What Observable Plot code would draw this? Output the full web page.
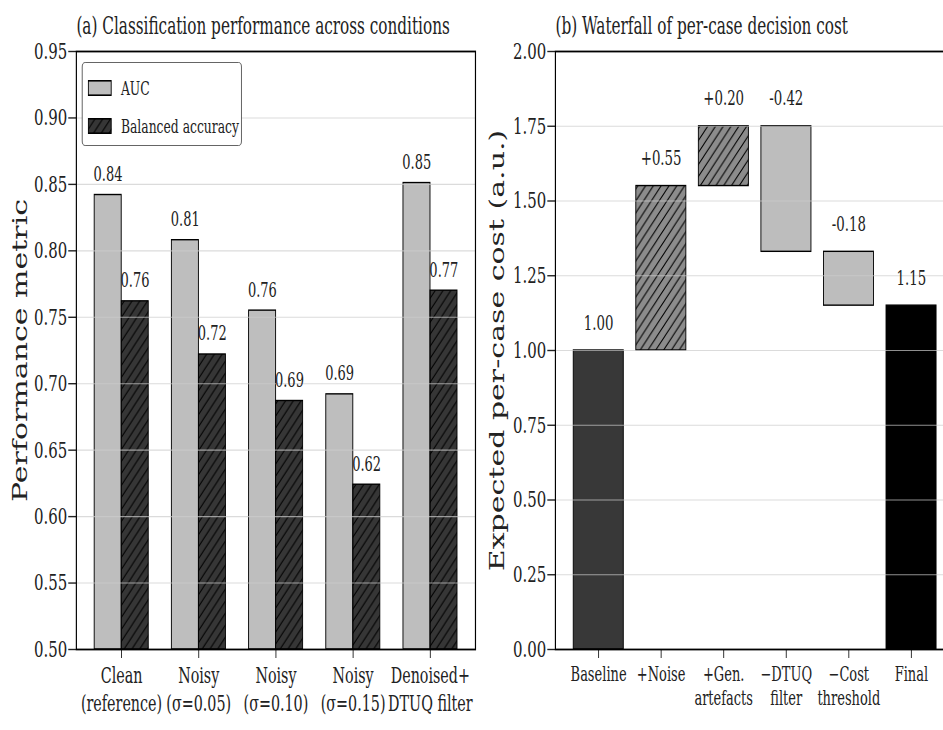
<!DOCTYPE html>
<html><head><meta charset="utf-8">
<script src="https://cdn.jsdelivr.net/npm/d3@7"></script>
<script src="https://cdn.jsdelivr.net/npm/@observablehq/plot@0.6"></script>
<style>
html,body{margin:0;padding:0;background:#fff;overflow:hidden;width:943px;height:730px;}
#wrap{position:absolute;left:0;top:0;width:1480px;height:730px;transform:scaleX(0.65);transform-origin:0 0;display:flex;font-family:"DejaVu Serif",serif;}
#wrap svg{display:block;max-width:none;}
#legend{position:absolute;left:126px;top:62px;width:244px;height:82px;border:1.6px solid #444;border-radius:5px;background:#fff;font-size:19px;color:#222;}
.lg{position:absolute;left:8px;display:flex;align-items:center;}
.lg span{margin-left:14px;}
</style></head><body>
<svg width="0" height="0" style="position:absolute">
  <defs>
    <pattern id="hatch" patternUnits="userSpaceOnUse" width="12" height="12">
      <path d="M0,12L12,0M-3,3L3,-3M9,15L15,9" stroke="#000" stroke-width="1.3" fill="none"/>
    </pattern>
  </defs>
</svg>
<div id="wrap">
  <div id="legend">
    <div class="lg" style="top:14px"><svg width="37" height="16"><rect x="0.8" y="0.8" width="35.4" height="14.4" fill="#bebebe" stroke="#000" stroke-width="1.6"/></svg><span>AUC</span></div>
    <div class="lg" style="top:52px"><svg width="37" height="16"><rect x="0.8" y="0.8" width="35.4" height="14.4" fill="#363636"/><rect x="0.8" y="0.8" width="35.4" height="14.4" fill="url(#hatch)" stroke="#000" stroke-width="1.6"/></svg><span>Balanced accuracy</span></div>
  </div>
</div>
<script>
// ---------- Panel (a) data ----------
const conditions = ["Clean\n(reference)", "Noisy\n(σ=0.05)", "Noisy\n(σ=0.10)", "Noisy\n(σ=0.15)", "Denoised+\nDTUQ filter"];
const aucValues = [0.842, 0.808, 0.755, 0.692, 0.851];
const balAccValues = [0.762, 0.722, 0.687, 0.624, 0.770];
const perfTicks = [0.50, 0.55, 0.60, 0.65, 0.70, 0.75, 0.80, 0.85, 0.90, 0.95];

// ---------- Panel (b) data ----------
const steps = ["Baseline", "+Noise", "+Gen.\nartefacts", "\u2212DTUQ\nfilter", "\u2212Cost\nthreshold", "Final"];
const stepKinds = ["total", "increase", "increase", "decrease", "decrease", "total"];
const stepValues = [1.00, 0.55, 0.20, -0.42, -0.18, 1.15];
const costTicks = [0.00, 0.25, 0.50, 0.75, 1.00, 1.25, 1.50, 1.75, 2.00];

// ---------- styles ----------
const fontStyle = {fontFamily: "DejaVu Serif", fontSize: "23px", background: "transparent", maxWidth: "none", overflow: "visible", color: "#222"};
const barW = 0.35, wfW = 0.4;
const stepFill = ["#383838", "#8c8c8c", "#8c8c8c", "#bdbdbd", "#bdbdbd", "#000000"];
const stepHatch = [false, true, true, false, false, false];

// rows for panel (a)
const perfRows = conditions.flatMap((c, i) => [
  {i, series: "AUC", x1: i - barW, x2: i, base: perfTicks[0], v: aucValues[i]},
  {i, series: "Balanced accuracy", x1: i, x2: i + barW, base: perfTicks[0], v: balAccValues[i]}
]);

// rows for panel (b)
let running = 0;
const wfRows = steps.map((s, i) => {
  const v = stepValues[i];
  if (stepKinds[i] === "total") {
    running = v;
    return {i, lo: 0, hi: v, label: v.toFixed(2)};
  }
  const start = running;
  running = Math.round((running + v) * 1000) / 1000;
  return {i, lo: Math.min(start, running), hi: Math.max(start, running), label: (v > 0 ? "+" : "") + v.toFixed(2)};
});

const H = 730, mTop = 51, mBottom = 81;

const plotA = Plot.plot({
  width: 735, height: H,
  marginLeft: 117, marginRight: 4, marginTop: mTop, marginBottom: mBottom,
  style: fontStyle,
  x: {domain: [-0.585, 4.585]},
  y: {domain: [perfTicks[0], perfTicks[perfTicks.length - 1]]},
  marks: [
    Plot.rect(perfRows, {x1: "x1", x2: "x2", y1: "base", y2: "v",
      fill: d => d.series === "AUC" ? "#bebebe" : "#363636"}),
    Plot.rect(perfRows.filter(d => d.series !== "AUC"), {x1: "x1", x2: "x2", y1: "base", y2: "v", fill: "url(#hatch)"}),
    Plot.rect(perfRows, {x1: "x1", x2: "x2", y1: "base", y2: "v", fill: "none", stroke: "#000", strokeWidth: 1.4}),
    Plot.gridY(perfTicks, {stroke: "#cccccc", strokeOpacity: 0.7, strokeWidth: 1.1}),
    Plot.text(perfRows, {x: d => (d.x1 + d.x2) / 2, y: "v", text: d => d.v.toFixed(2), lineAnchor: "bottom", dy: -14, fontSize: 20, fill: "#222"}),
    Plot.axisY(perfTicks, {tickFormat: d3.format(".2f"), tickSize: 12, tickPadding: 2, label: null, strokeWidth: 1.4, fill: "#222"}),
    Plot.axisX(d3.range(conditions.length), {tickFormat: i => conditions[i], tickSize: 9, tickPadding: 5, label: null, lineHeight: 1.25, strokeWidth: 1.4, fontSize: 22, fill: "#222"}),
    Plot.frame({stroke: "#000", strokeWidth: 1.8}),
    Plot.text(["(a) Classification performance across conditions"], {frameAnchor: "top-left", textAnchor: "start", lineAnchor: "bottom", dy: -18, fontSize: 23.5, fill: "#222"}),
    Plot.text(["Performance metric"], {frameAnchor: "left", textAnchor: "middle", rotate: -90, dx: -86, fontSize: 30, fill: "#222"})
  ]
});

const plotB = Plot.plot({
  width: 740, height: H,
  marginLeft: 119, marginRight: 7, marginTop: mTop, marginBottom: mBottom,
  style: fontStyle,
  x: {domain: [-0.69, 5.69]},
  y: {domain: [costTicks[0], costTicks[costTicks.length - 1]]},
  marks: [
    Plot.rect(wfRows, {x1: d => d.i - wfW, x2: d => d.i + wfW, y1: "lo", y2: "hi", fill: d => stepFill[d.i]}),
    Plot.rect(wfRows.filter(d => stepHatch[d.i]), {x1: d => d.i - wfW, x2: d => d.i + wfW, y1: "lo", y2: "hi", fill: "url(#hatch)"}),
    Plot.rect(wfRows, {x1: d => d.i - wfW, x2: d => d.i + wfW, y1: "lo", y2: "hi", fill: "none", stroke: "#000", strokeWidth: 1.4}),
    Plot.gridY(costTicks, {stroke: "#cccccc", strokeOpacity: 0.7, strokeWidth: 1.1}),
    Plot.text(wfRows, {x: "i", y: "hi", text: "label", lineAnchor: "bottom", dy: -21, fontSize: 20.5, fill: "#222"}),
    Plot.axisY(costTicks, {tickFormat: d3.format(".2f"), tickSize: 12, tickPadding: 2, label: null, strokeWidth: 1.4, fill: "#222"}),
    Plot.axisX(d3.range(steps.length), {tickFormat: i => steps[i], tickSize: 9, tickPadding: 5, label: null, lineHeight: 1.2, strokeWidth: 1.4, fontSize: 20, fill: "#222"}),
    Plot.frame({stroke: "#000", strokeWidth: 1.8}),
    Plot.text(["(b) Waterfall of per-case decision cost"], {frameAnchor: "top-left", textAnchor: "start", lineAnchor: "bottom", dy: -18, fontSize: 23.5, fill: "#222"}),
    Plot.text(["Expected per-case cost (a.u.)"], {frameAnchor: "left", textAnchor: "middle", rotate: -90, dx: -88, fontSize: 30, fill: "#222"})
  ]
});

const wrap = document.getElementById("wrap");
const legend = document.getElementById("legend");
wrap.insertBefore(plotA, legend);
wrap.insertBefore(plotB, legend);
</script>
</body></html>
